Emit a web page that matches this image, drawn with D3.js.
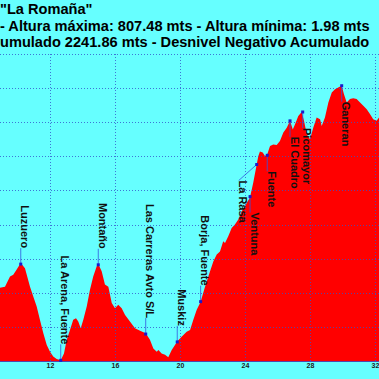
<!DOCTYPE html>
<html><head><meta charset="utf-8">
<script src="https://cdn.jsdelivr.net/npm/d3@7"></script>
<style>html,body{margin:0;padding:0;background:#66ffff;overflow:hidden}</style>
</head><body><svg id="c" width="379" height="379"></svg>
<script>
const titleLines = ['"La Romaña"', '- Altura máxima: 807.48 mts - Altura mínima: 1.98 mts', 'umulado 2241.86 mts - Desnivel Negativo Acumulado'];
const profileKm = [8.92,9.23,9.54,9.74,9.95,10.20,10.46,10.77,10.97,11.18,11.38,11.59,11.80,12.00,12.20,12.41,12.66,12.86,13.03,13.23,13.43,13.60,13.74,13.89,14.05,14.26,14.46,14.66,14.87,14.97,15.18,15.38,15.59,15.80,16.00,16.20,16.41,16.62,16.92,17.23,17.54,17.89,18.15,18.36,18.57,18.67,18.87,19.08,19.28,19.49,19.69,19.83,20.10,20.41,20.62,20.82,21.03,21.27,21.54,21.85,22.05,22.26,22.46,22.66,22.77,22.97,23.18,23.38,23.59,23.80,24.00,24.31,24.51,24.72,24.82,24.92,25.09,25.23,25.37,25.54,25.74,25.95,26.15,26.36,26.57,26.77,26.94,27.08,27.28,27.49,27.63,27.80,28.00,28.20,28.41,28.62,28.72,28.92,29.13,29.34,29.54,29.74,29.95,30.09,30.26,30.46,30.66,30.87,31.08,31.28,31.49,31.69,31.89,32.10,32.25];
const profileAlt = [215,218,248,253,268,287,272,218,189,160,121,81,47,27,13,6,2,22,62,91,121,125,116,96,121,160,209,248,277,284,263,224,218,170,155,165,155,135,116,96,89,81,62,37,27,32,22,18,11,32,47,57,71,86,91,121,150,174,218,263,292,312,321,351,346,366,390,400,415,439,454,480,523,576,601,614,611,601,606,630,635,633,645,670,684,704,679,694,718,730,704,665,650,684,714,709,689,714,758,787,797,802,807,782,758,768,770,768,758,748,738,724,709,704,714];
const waypointNames = ["Luzuero","La Arena, Fuente","Montaño","Las Carreras Avto S/L","Muskiz","Borja, Fuente","Ventuna","La Rasa","Fuente","El Cuadro","Picomayor","Ganeran"];
const waypointKm = [10.20,12.66,14.97,17.89,19.83,21.27,24.31,24.72,25.37,26.77,27.55,29.95];
const waypointAlt = [284,2,282,79,56,174,482,576,603,704,730,807];
const waypointSide = ["above","above","above","above","above","above","below","below","below","below","below","below"];
const xTicks = [12,16,20,24,28,32];
const yTicks = [100,200,300,400,500,600,700,800,900];

const W = 379, H = 379;
const svg = d3.select("#c");
const x = d3.scaleLinear().domain([0, 32]).range([-145, 375]);
const y = d3.scaleLinear().domain([0, 900]).range([361, 54]);
const labelNudge = {"La Rasa": -18};
const gap = 16;

svg.append("rect").attr("width", W).attr("height", H).attr("fill", "#66ffff");

// title
svg.append("g").selectAll("text").data(titleLines).join("text")
  .attr("x", 0).attr("y", (d, i) => 14 + i * 16.5)
  .attr("font-family", "Liberation Sans, Arial, sans-serif")
  .attr("font-weight", "bold").attr("font-size", 14.6).attr("fill", "#000")
  .text(d => d);

const pts = profileKm.map((k, i) => [k, profileAlt[i]]);
svg.append("path").datum(pts)
  .attr("d", d3.area().x(d => x(d[0])).y0(y(0)).y1(d => y(d[1])))
  .attr("fill", "#ff0000");

// grid
const grid = svg.append("g").attr("stroke", "#3355cc").attr("stroke-width", 1)
  .attr("stroke-dasharray", "1,2").attr("opacity", 0.8);
grid.selectAll("line.h").data(yTicks).join("line").attr("class", "h")
  .attr("x1", 0).attr("x2", W).attr("y1", d => Math.round(y(d)) + 0.5).attr("y2", d => Math.round(y(d)) + 0.5);
grid.selectAll("line.v").data(xTicks).join("line").attr("class", "v")
  .attr("x1", d => Math.round(x(d)) + 0.5).attr("x2", d => Math.round(x(d)) + 0.5)
  .attr("y1", y(900)).attr("y2", y(0));

// x axis
const ax = svg.append("g").attr("transform", `translate(0,${y(0)})`)
  .call(d3.axisBottom(x).tickValues(xTicks).tickSize(0).tickPadding(2).tickFormat(d3.format("d")));
ax.select(".domain").attr("stroke", "#5544aa").attr("d", `M0,0.5H${W}`);
ax.selectAll("text").attr("font-family", "Liberation Sans, Arial, sans-serif")
  .attr("font-weight", "bold").attr("font-size", 7).attr("fill", "#222");

// waypoints
const wp = waypointNames.map((n, i) => ({n, k: waypointKm[i], a: waypointAlt[i], s: waypointSide[i]}));
const wg = svg.append("g");
wp.forEach(d => {
  const px = x(d.k), py = y(d.a);
  const lx = px + (labelNudge[d.n] || 0);
  const ly = d.s === "above" ? py - gap : py + gap;
  wg.append("line").attr("x1", px).attr("y1", py).attr("x2", lx).attr("y2", ly)
    .attr("stroke", "#3355dd").attr("stroke-width", 0.8);
  wg.append("rect").attr("x", px - 1.5).attr("y", py - 1.5).attr("width", 3).attr("height", 3).attr("fill", "#1a1acc");
  wg.append("text").attr("transform", `translate(${lx + 0.5},${ly}) rotate(90)`)
    .attr("text-anchor", d.s === "above" ? "end" : "start")
    .attr("font-family", "Liberation Sans, Arial, sans-serif").attr("font-size", 11)
    .attr("font-weight", "bold").attr("fill", "#111")
    .text(d.n);
});
</script></body></html>
